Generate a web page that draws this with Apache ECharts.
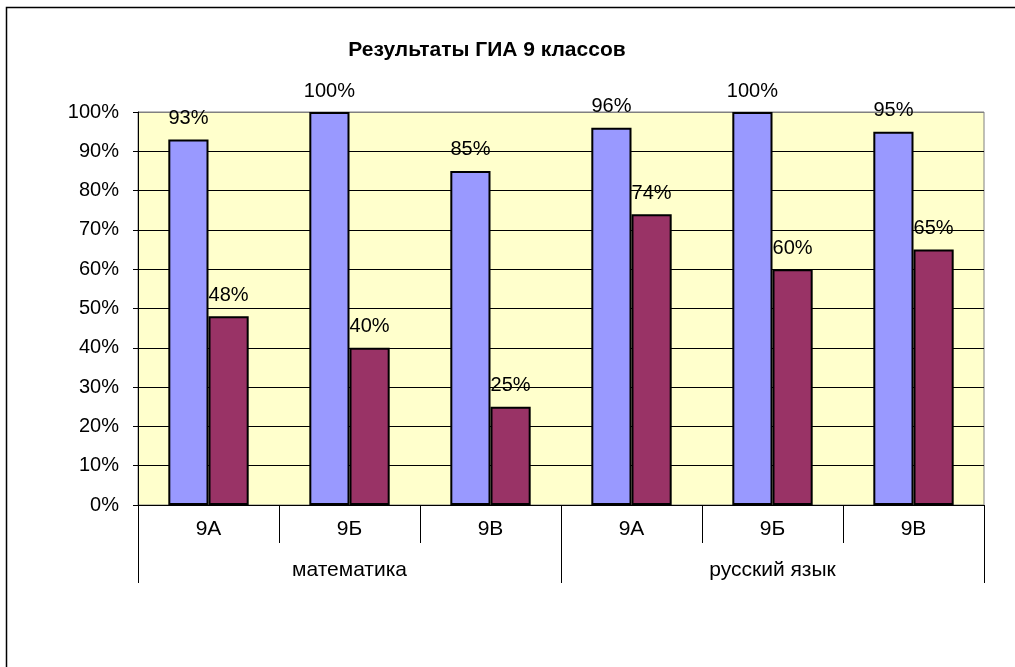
<!DOCTYPE html>
<html>
<head>
<meta charset="utf-8">
<script src="https://cdn.jsdelivr.net/npm/echarts@6/dist/echarts.min.js"></script>
<style>
html,body{margin:0;padding:0;background:#fff;}
#chart{width:1015px;height:667px;}
</style>
</head>
<body>
<div id="chart"></div>
<script>
var titleText = 'Результаты ГИА 9 классов';
var classes = ['9А', '9Б', '9В', '9А', '9Б', '9В'];
var subjects = ['математика', 'русский язык'];
var seriesNames = ['Успеваемость', 'Качество'];
var passRate = [93, 100, 85, 96, 100, 95];
var qualityRate = [48, 40, 25, 74, 60, 65];
var yTicks = [0, 10, 20, 30, 40, 50, 60, 70, 80, 90, 100];

var FONT = 'Liberation Sans, Arial, sans-serif';
var chart = echarts.init(document.getElementById('chart'));
var gridColors = yTicks.map(function (v, i) { return i === yTicks.length - 1 ? '#808080' : '#000000'; });

var labelCfg = {
  show: true, position: 'top', distance: 11,
  color: '#000', fontFamily: FONT, fontSize: 20,
  formatter: function (p) { return p.value + '%'; }
};

chart.setOption({
  animation: false,
  backgroundColor: '#ffffff',
  title: {
    text: titleText, left: 482, top: 35, textAlign: 'center',
    textStyle: { fontFamily: FONT, fontSize: 21, fontWeight: 'bold', color: '#000' }
  },
  graphic: [{
    type: 'rect', shape: { x: 6.5, y: 7.5, width: 1100, height: 800 },
    style: { fill: 'none', stroke: '#000', lineWidth: 1.5 }, silent: true
  }],
  grid: {
    left: 138, right: 31, top: 112, bottom: 162,
    show: true, backgroundColor: '#FFFFCC', borderColor: '#808080', borderWidth: 1
  },
  xAxis: [{
    type: 'category', data: classes, position: 'bottom',
    axisLine: { lineStyle: { color: '#000', width: 1 } },
    axisTick: { show: true, length: 38, interval: 0, lineStyle: { color: '#000' } },
    axisLabel: { margin: 14, color: '#000', fontFamily: FONT, fontSize: 21, interval: 0 }
  }, {
    type: 'category', data: subjects, position: 'bottom',
    axisLine: { show: false },
    axisTick: { show: true, length: 78, interval: 0, lineStyle: { color: '#000' } },
    axisLabel: { margin: 55, color: '#000', fontFamily: FONT, fontSize: 21, interval: 0 }
  }],
  yAxis: {
    type: 'value', min: 0, max: 100, interval: 10,
    axisLine: { show: true, lineStyle: { color: '#000' } },
    axisTick: { show: true, length: 5, lineStyle: { color: '#000' } },
    axisLabel: { margin: 19, color: '#000', fontFamily: FONT, fontSize: 20, formatter: '{value}%' },
    splitLine: { show: true, lineStyle: { color: gridColors, width: 1 } }
  },
  series: [{
    name: seriesNames[0], type: 'bar', xAxisIndex: 0, data: passRate,
    barGap: '0%', barCategoryGap: '43%',
    itemStyle: { color: '#9999FF', borderColor: '#000', borderWidth: 2 },
    label: labelCfg
  }, {
    name: seriesNames[1], type: 'bar', xAxisIndex: 0, data: qualityRate,
    barGap: '0%', barCategoryGap: '43%',
    itemStyle: { color: '#993366', borderColor: '#000', borderWidth: 2 },
    label: labelCfg
  }]
});
</script>
</body>
</html>
